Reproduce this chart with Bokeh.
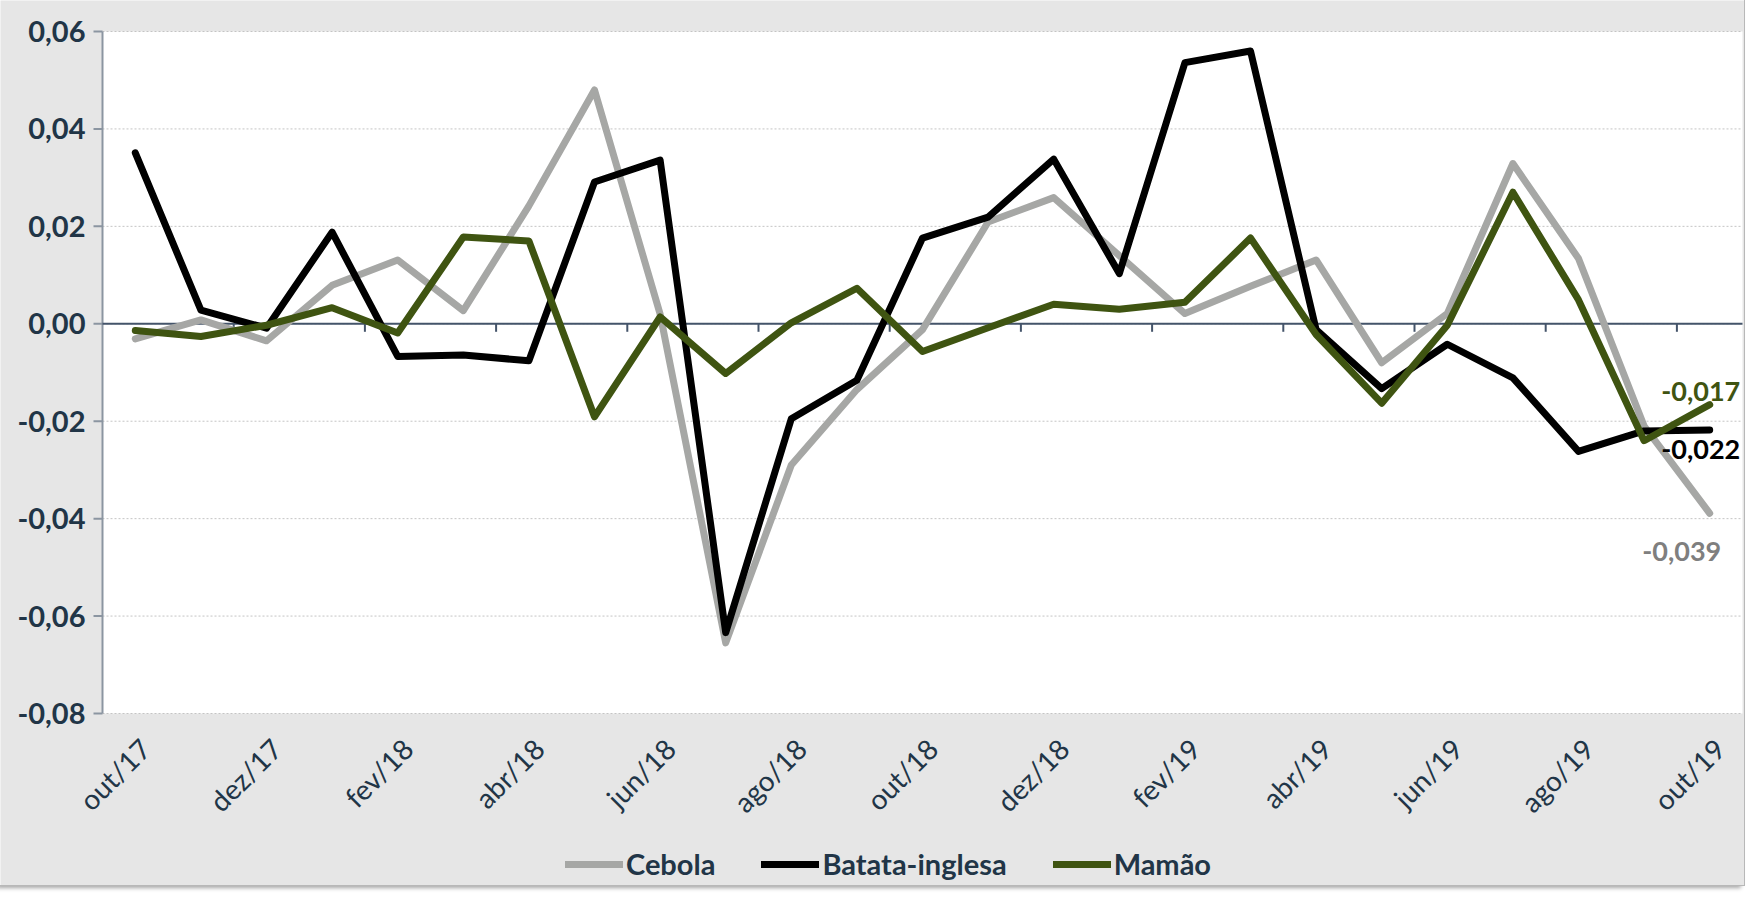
import math
from bokeh.plotting import figure
from bokeh.models import Legend, LegendItem, Label, Range1d
from bokeh.core.properties import value
from bokeh.embed import file_html
from bokeh.resources import INLINE

months = ["out/17", "nov/17", "dez/17", "jan/18", "fev/18", "mar/18", "abr/18",
          "mai/18", "jun/18", "jul/18", "ago/18", "set/18", "out/18", "nov/18",
          "dez/18", "jan/19", "fev/19", "mar/19", "abr/19", "mai/19", "jun/19",
          "jul/19", "ago/19", "set/19", "out/19"]

cebola = [-0.0031, 0.0008, -0.0035, 0.0079, 0.0131, 0.0027, 0.0242, 0.0480,
          0.0020, -0.0655, -0.0290, -0.0135, -0.0012, 0.0209, 0.0259, 0.0140,
          0.0021, 0.0077, 0.0131, -0.0080, 0.0021, 0.0329, 0.0134, -0.0210,
          -0.0389]
batata = [0.0351, 0.0028, -0.0009, 0.0188, -0.0067, -0.0064, -0.0076, 0.0291,
          0.0336, -0.0634, -0.0195, -0.0116, 0.0176, 0.0219, 0.0338, 0.0103,
          0.0536, 0.0560, -0.0012, -0.0133, -0.0042, -0.0111, -0.0262, -0.0220,
          -0.0218]
mamao = [-0.0014, -0.0026, -0.0003, 0.0033, -0.0019, 0.0178, 0.0170, -0.0191,
         0.0014, -0.0102, 0.0002, 0.0073, -0.0057, -0.0008, 0.0040, 0.0030,
         0.0044, 0.0176, -0.0022, -0.0163, -0.0003, 0.0270, 0.0049, -0.0240,
         -0.0166]

series_names = ["Cebola", "Batata-inglesa", "Mamão"]
y_ticks = [-0.08, -0.06, -0.04, -0.02, 0.0, 0.02, 0.04, 0.06]

NAVY = "#213547"
COLORS = ["#a6a7a5", "#000000", "#3f5411"]
LABEL_COLORS = ["#7f7f7f", "#000000", "#3f5411"]
BG = "#e6e6e6"
AXIS = "#8b95a1"
ZERO = "#44546a"

x = list(range(len(months)))
label_idx = list(range(0, len(months), 2))

# layout (screen px): the frame covers the whole figure, the white plot
# area sits inside it
W, H = 1744, 885
TOP, LEFT, RIGHT = 31, 102, 2
GRID_PX = 682          # height of the -0.08 .. 0.06 plot area
BAND_PX = 65.6         # width of one month
x_lo, x_hi = -0.5, len(months) - 0.5
y_lo, y_hi = y_ticks[0], y_ticks[-1]
u_per_px = (y_hi - y_lo) / GRID_PX

p = figure(width=W, height=H,
           x_range=Range1d(x_lo - LEFT / BAND_PX, x_hi + RIGHT / BAND_PX),
           y_range=Range1d(y_lo - (H - TOP - GRID_PX) * u_per_px,
                           y_hi + TOP * u_per_px),
           output_backend="svg", toolbar_location=None,
           x_axis_location=None, y_axis_location=None,
           min_border=0,
           background_fill_color=BG, border_fill_color=BG)
p.outline_line_color = None
p.grid.visible = False
p.styles = {"outline": "1px solid #b8b8b8",
            "box-shadow": "-3px 3px 4px rgba(0,0,0,0.35)"}

# white plot area
p.quad(left=[x_lo], right=[x_hi], bottom=[y_lo], top=[y_hi],
       fill_color="white", line_color=None)

# horizontal grid
n = len(y_ticks)
p.segment(x0=[x_lo] * n, x1=[x_hi] * n, y0=y_ticks, y1=y_ticks,
          line_color="#c4c4c4", line_dash="2 2", line_width=1)

# y axis: line, ticks, labels
p.segment(x0=[x_lo], x1=[x_lo], y0=[y_lo], y1=[y_hi],
          line_color=AXIS, line_width=2)
p.segment(x0=[x_lo - 9 / BAND_PX] * n, x1=[x_lo] * n, y0=y_ticks, y1=y_ticks,
          line_color=AXIS, line_width=2)
p.text(x=[x_lo] * n, y=y_ticks,
       text=[f"{t:.2f}".replace(".", ",").replace("-0,00", "0,00") for t in y_ticks],
       x_offset=-17, text_align="right", text_baseline="middle",
       text_font=value("Lato"), text_font_style="bold",
       text_font_size="29px", text_color=NAVY)

# zero line with category tick marks
p.segment(x0=[x_lo], x1=[x_hi], y0=[0], y1=[0], line_color=ZERO, line_width=2)
tick_x = [i - 0.5 for i in range(2, len(months), 2)]
p.segment(x0=tick_x, y0=[0] * len(tick_x), x1=tick_x,
          y1=[-8 * u_per_px] * len(tick_x), line_color=ZERO, line_width=2)

# category labels (rotated)
p.text(x=label_idx, y=[y_lo] * len(label_idx),
       text=[months[i] for i in label_idx], angle=math.pi / 4,
       x_offset=10, y_offset=30,
       text_align="right", text_baseline="middle",
       text_font=value("Lato"), text_font_size="28px", text_color=NAVY)

renderers = []
for vals, col in zip([cebola, batata, mamao], COLORS):
    r = p.line(x, vals, line_color=col, line_width=7,
               line_join="round", line_cap="round")
    renderers.append(r)

legend = Legend(items=[LegendItem(label=nm, renderers=[r])
                       for nm, r in zip(series_names, renderers)],
                orientation="horizontal", location=(565, 4),
                glyph_width=58, glyph_height=26, label_standoff=3,
                spacing=46, padding=0, margin=0,
                border_line_color=None, background_fill_alpha=0,
                label_text_font="Lato", label_text_font_style="bold",
                label_text_font_size="29px", label_text_color=NAVY)
p.add_layout(legend, "center")

# end-value labels
offsets = [(-28, -29, "top"), (-9, -10, "top"), (-9, 4, "bottom")]
for vals, col, (xo, yo, bl) in zip([cebola, batata, mamao], LABEL_COLORS, offsets):
    last = vals[-1]
    p.add_layout(Label(x=len(months) - 1, y=last,
                       text=f"{last:.3f}".replace(".", ","),
                       x_offset=xo, y_offset=yo,
                       text_align="center", text_baseline=bl,
                       text_font="Lato", text_font_style="bold",
                       text_font_size="27px", text_color=col))

open("out.html", "w").write(file_html(p, INLINE))
